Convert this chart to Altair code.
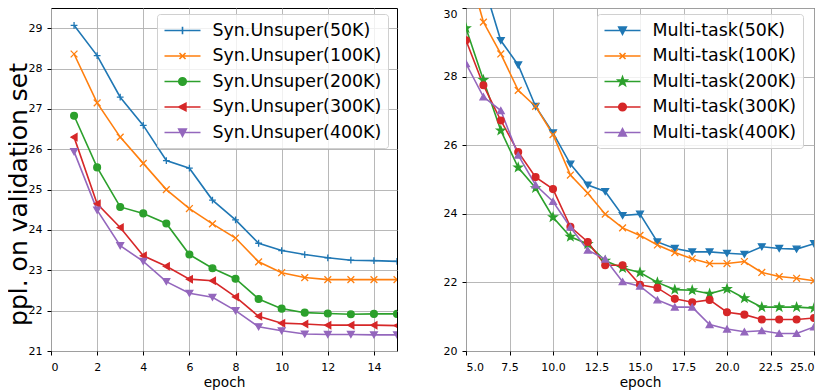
import altair as alt
import pandas as pd

# ---------------- data ----------------
syn_epochs = list(range(1, 16))
syn_names = ["Syn.Unsuper(50K)", "Syn.Unsuper(100K)", "Syn.Unsuper(200K)",
             "Syn.Unsuper(300K)", "Syn.Unsuper(400K)"]
syn_50k = [29.07, 28.32, 27.29, 26.59, 25.72, 25.53, 24.74, 24.25, 23.67, 23.49,
           23.39, 23.31, 23.25, 23.24, 23.22]
syn_100k = [28.36, 27.15, 26.30, 25.65, 25.00, 24.53, 24.15, 23.80, 23.21, 22.94,
            22.82, 22.77, 22.77, 22.77, 22.77]
syn_200k = [26.83, 25.55, 24.57, 24.41, 24.16, 23.39, 23.05, 22.79, 22.29, 22.05,
            21.95, 21.93, 21.91, 21.92, 21.92]
syn_300k = [26.30, 24.65, 24.06, 23.36, 23.10, 22.78, 22.74, 22.34, 21.86, 21.69,
            21.67, 21.64, 21.64, 21.64, 21.63]
syn_400k = [25.94, 24.49, 23.61, 23.22, 22.72, 22.43, 22.33, 22.00, 21.60, 21.50,
            21.42, 21.41, 21.41, 21.40, 21.40]

mt_epochs = list(range(5, 26))
mt_names = ["Multi-task(50K)", "Multi-task(100K)", "Multi-task(200K)",
            "Multi-task(300K)", "Multi-task(400K)"]
mt_50k = [31.9, 30.72, 29.05, 28.34, 27.13, 26.36, 25.45, 24.84, 24.65, 23.95,
          23.99, 23.18, 22.99, 22.89, 22.89, 22.85, 22.82, 23.04, 22.99, 22.97, 23.13]
mt_100k = [31.4, 29.59, 28.66, 27.60, 27.13, 26.31, 25.13, 24.60, 23.99, 23.59,
           23.37, 23.09, 22.87, 22.69, 22.55, 22.55, 22.61, 22.29, 22.17, 22.12, 22.05]
mt_200k = [29.41, 27.90, 26.43, 25.35, 24.75, 23.90, 23.33, 23.12, 22.63, 22.42,
           22.29, 22.00, 21.79, 21.77, 21.67, 21.81, 21.54, 21.28, 21.28, 21.28, 21.25]
mt_300k = [29.06, 27.75, 26.72, 25.80, 25.07, 24.72, 23.62, 23.18, 22.50, 22.50,
           21.93, 21.84, 21.52, 21.42, 21.49, 21.13, 21.06, 20.92, 20.92, 20.92, 20.96]
mt_400k = [28.38, 27.41, 27.01, 25.71, 24.84, 24.36, 23.61, 22.94, 22.68, 22.02,
           21.89, 21.49, 21.28, 21.28, 20.77, 20.64, 20.56, 20.59, 20.51, 20.51, 20.70]

syn_xticks = [0, 2, 4, 6, 8, 10, 12, 14]
syn_yticks = [21, 22, 23, 24, 25, 26, 27, 28, 29]
mt_xticks = [5.0, 7.5, 10.0, 12.5, 15.0, 17.5, 20.0, 22.5, 25.0]
mt_yticks = [20, 22, 24, 26, 28, 30]

colors = ["#1f77b4", "#ff7f0e", "#2ca02c", "#d62728", "#9467bd"]

FONT = "DejaVu Sans"


# ---------------- marker shapes ----------------
def star_path(ro, ri):
    import math
    pts = []
    for k in range(10):
        a = math.radians(-90 + 36 * k)
        r = ro if k % 2 == 0 else ri
        pts.append(f"{r * math.cos(a):.4f},{r * math.sin(a):.4f}")
    return "M" + "L".join(pts) + "Z"


PLUS = "M-1,0H1M0,-1V1"
XMARK = "M-1,-1L1,1M-1,1L1,-1"
STAR = star_path(1.25, 0.5)

# legend symbols: symbolSize 324 -> 1 unit = 9 px ; line is 36 px long
LINE = "M-2,0H2"
m = 0.42
LG_PLUS = LINE + f"M0,-{m}V{m}"
mx = m * 0.8
LG_X = LINE + f"M-{mx},-{mx}L{mx},{mx}M-{mx},{mx}L{mx},-{mx}"
LG_CIRCLE = LINE + f"M{m},0A{m},{m},0,1,1,-{m},0A{m},{m},0,1,1,{m},0Z"
LG_TRI_LEFT = LINE + f"M-{m},0L{m*0.9},-{m}L{m*0.9},{m}Z"
LG_TRI_DOWN = LINE + f"M-{m},-{m*0.9}L{m},-{m*0.9}L0,{m}Z"
LG_TRI_UP = LINE + f"M-{m},{m*0.9}L{m},{m*0.9}L0,-{m}Z"
LG_STAR = LINE + star_path(0.52, 0.21)


def long_df(epochs, names, series):
    rows = []
    for name, vals in zip(names, series):
        for e, v in zip(epochs, vals):
            rows.append({"epoch": e, "ppl": v, "series": name})
    return pd.DataFrame(rows)


def panel(df, names, vis_shapes, leg_shapes, xdom, ydom, xticks, yticks, xfmt,
          ytitle, legx, legy, width, height, top_label):
    x = alt.X("epoch:Q", scale=alt.Scale(domain=xdom, nice=False, zero=False),
              axis=alt.Axis(values=xticks, format=xfmt, title="epoch",
                            titleFontSize=13.7, titlePadding=3, labelPadding=6))
    yaxis = dict(values=yticks, format="d",
                 labelOffset={"condition": {"test": f"datum.value == {top_label}",
                                            "value": 6}, "value": 0})
    if ytitle:
        yaxis.update(title=ytitle, titleFontSize=25, titleX=-20, titleY=186,
                     titleBaseline="bottom", titleAngle=270)
    else:
        yaxis.update(title=None)
    y = alt.Y("ppl:Q", scale=alt.Scale(domain=ydom, nice=False, zero=False),
              axis=alt.Axis(**yaxis))
    base = alt.Chart(df)
    lines = base.mark_line(strokeWidth=1.6, clip=True).encode(
        x=x, y=y,
        color=alt.Color("series:N", scale=alt.Scale(domain=names, range=colors),
                        legend=None),
    )
    points = base.mark_point(size=46, strokeWidth=1.3, opacity=1, clip=True).encode(
        x=x, y=y,
        shape=alt.Shape("series:N", scale=alt.Scale(domain=names, range=vis_shapes),
                        legend=None),
        fill=alt.Fill("series:N", scale=alt.Scale(domain=names, range=colors),
                      legend=None),
        stroke=alt.Stroke("series:N", scale=alt.Scale(domain=names, range=colors),
                          legend=None),
    )
    leg = alt.Legend(title=None, orient="none", legendX=legx, legendY=legy,
                     symbolSize=324, symbolStrokeWidth=1.6, symbolOpacity=1,
                     symbolOffset=9,
                     labelFont=FONT, labelFontSize=17.4, labelColor="black",
                     labelLimit=400, labelOffset=20, rowPadding=6.5,
                     padding=6.5, strokeColor="#d0d0d0",
                     fillColor="rgba(255,255,255,0.8)", cornerRadius=3)
    legend_layer = base.mark_point(size=46, opacity=0, clip=True).encode(
        x=x, y=y,
        shape=alt.Shape("series:N", scale=alt.Scale(domain=names, range=leg_shapes),
                        legend=leg),
        fill=alt.Fill("series:N", scale=alt.Scale(domain=names, range=colors),
                      legend=leg),
        stroke=alt.Stroke("series:N", scale=alt.Scale(domain=names, range=colors),
                          legend=leg),
    )
    return alt.layer(lines, points, legend_layer).resolve_scale(
        shape="independent", fill="independent", stroke="independent"
    ).properties(width=width, height=height)


syn_df = long_df(syn_epochs, syn_names, [syn_50k, syn_100k, syn_200k, syn_300k, syn_400k])
mt_df = long_df(mt_epochs, mt_names, [mt_50k, mt_100k, mt_200k, mt_300k, mt_400k])

left = panel(syn_df, syn_names,
             [PLUS, XMARK, "circle", "triangle-left", "triangle-down"],
             [LG_PLUS, LG_X, LG_CIRCLE, LG_TRI_LEFT, LG_TRI_DOWN],
             [0, 15], [21, 29.5], syn_xticks, syn_yticks, "d",
             "ppl. on validation set", 106, 6, 346, 343, 99)
right = panel(mt_df, mt_names,
              ["triangle-down", XMARK, STAR, "circle", "triangle-up"],
              [LG_TRI_DOWN, LG_X, LG_STAR, LG_CIRCLE, LG_TRI_UP],
              [5, 25], [20, 30], mt_xticks, mt_yticks, ".1f",
              None, 131, 6, 348, 343, 30)

chart = alt.hconcat(left, right, spacing=44).properties(
    padding={"left": -3, "top": -1, "right": 0, "bottom": 0}
).configure_view(stroke="black", strokeWidth=1).configure_axis(
    labelFont=FONT, labelFontSize=11, labelColor="black", tickColor="black",
    tickSize=4, tickWidth=1, labelPadding=5, domain=False, grid=True,
    gridColor="#b0b0b0", gridWidth=0.9, titleFont=FONT, titleFontWeight="normal",
    titleColor="black"
).configure_legend(
    labelFont=FONT
)

chart.save("out.html", embed_options={"renderer": "svg", "actions": False})
